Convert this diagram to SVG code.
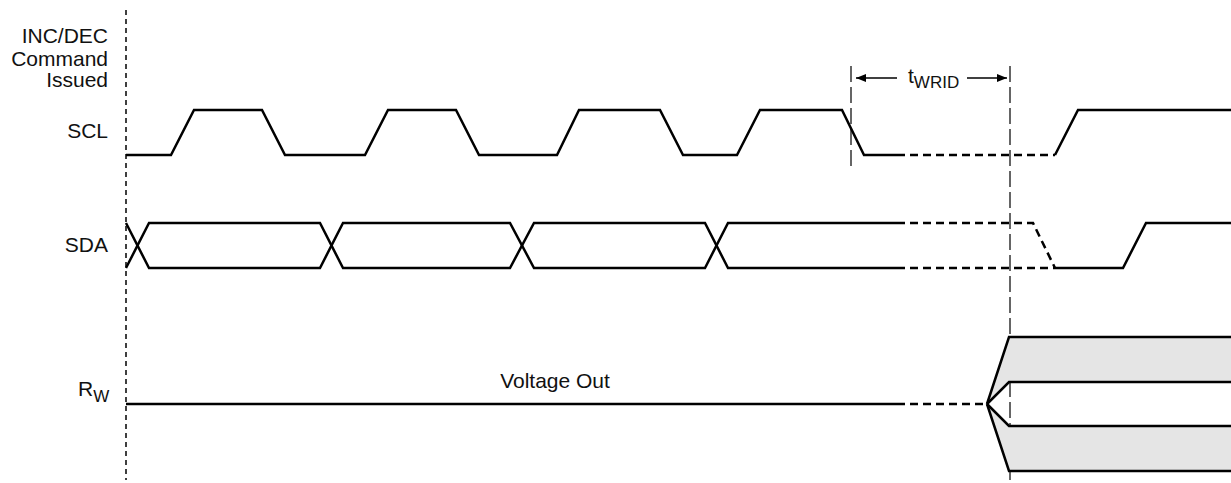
<svg xmlns="http://www.w3.org/2000/svg" width="1231" height="483" viewBox="0 0 1231 483">
<style>
text{font-family:"Liberation Sans",Arial,sans-serif;fill:#111}
.lbl{font-size:21px;text-anchor:end}
.w{fill:none;stroke:#000;stroke-width:2.5;stroke-linejoin:miter}
.wd{fill:none;stroke:#000;stroke-width:2.5;stroke-dasharray:8 5}
.ref{fill:none;stroke:#000;stroke-width:1.5;stroke-dasharray:5 4}
.tm{fill:none;stroke:#333;stroke-width:1.5;stroke-dasharray:16 5}
.ar{stroke:#000;stroke-width:1.5}
</style>
<defs>
<marker id="ah" viewBox="0 0 10 10" refX="10" refY="5" markerWidth="10" markerHeight="10" markerUnits="userSpaceOnUse" orient="auto-start-reverse">
<path d="M0,1 L10,5 L0,9 Z" fill="#000"/>
</marker>
</defs>
<g id="labels">
<text class="lbl" x="108" y="43">INC/DEC</text>
<text class="lbl" x="108" y="66">Command</text>
<text class="lbl" x="108" y="87">Issued</text>
<text class="lbl" x="108" y="138">SCL</text>
<text class="lbl" x="108" y="252">SDA</text>
<text x="78" y="396" style="font-size:21px">R<tspan dy="6" style="font-size:17px">W</tspan></text>
<text x="555" y="388" style="font-size:21px;text-anchor:middle">Voltage Out</text>
</g>
<g id="reference-lines">
<line class="ref" x1="126" y1="10" x2="126" y2="480"/>
<line class="tm" x1="851" y1="66" x2="851" y2="168"/>
<line class="tm" x1="1010" y1="66" x2="1010" y2="480"/>
</g>
<g id="twrid">
<line class="ar" x1="897" y1="78" x2="856" y2="78" marker-end="url(#ah)"/>
<line class="ar" x1="967" y1="78" x2="1007" y2="78" marker-end="url(#ah)"/>
<text x="908" y="83" style="font-size:21px">t<tspan dy="5" style="font-size:17px">WRID</tspan></text>
</g>
<g id="scl">
<polyline class="w" points="126,155 171,155 194,110 262,110 285,155 365,155 388,110 456,110 479,155 557,155 579,110 660,110 683,155 737,155 760,110 842,110 864,155 897,155"/>
<line class="wd" x1="897" y1="155" x2="1055" y2="155"/>
<polyline class="w" points="1055,155 1078,110 1231,110"/>
</g>
<g id="sda">
<polyline class="w" points="126,223 149,268 320,268 343,223 510,223 534,268 705,268 728,223 897,223"/>
<polyline class="w" points="126,268 149,223 320,223 343,268 510,268 534,223 705,223 728,268 897,268"/>
<polyline class="wd" points="897,223 1033,223 1055,268"/>
<line class="wd" x1="897" y1="268" x2="1055" y2="268"/>
<polyline class="w" points="1055,268 1123,268 1146,223 1231,223"/>
</g>
<g id="rw">
<rect x="1009" y="337" width="222" height="45" fill="#e5e5e5"/>
<rect x="1009" y="426" width="222" height="45" fill="#e5e5e5"/>
<polygon points="987,404 1009,337 1009,382" fill="#e5e5e5"/>
<polygon points="987,404 1009,426 1009,471" fill="#e5e5e5"/>
<line class="w" x1="126" y1="404" x2="897" y2="404"/>
<line class="wd" x1="897" y1="404" x2="987" y2="404"/>
<polyline class="w" points="987,404 1009,337 1231,337"/>
<polyline class="w" points="987,404 1009,382 1231,382"/>
<polyline class="w" points="987,404 1009,426 1231,426"/>
<polyline class="w" points="987,404 1009,471 1231,471"/>
</g>
</svg>
